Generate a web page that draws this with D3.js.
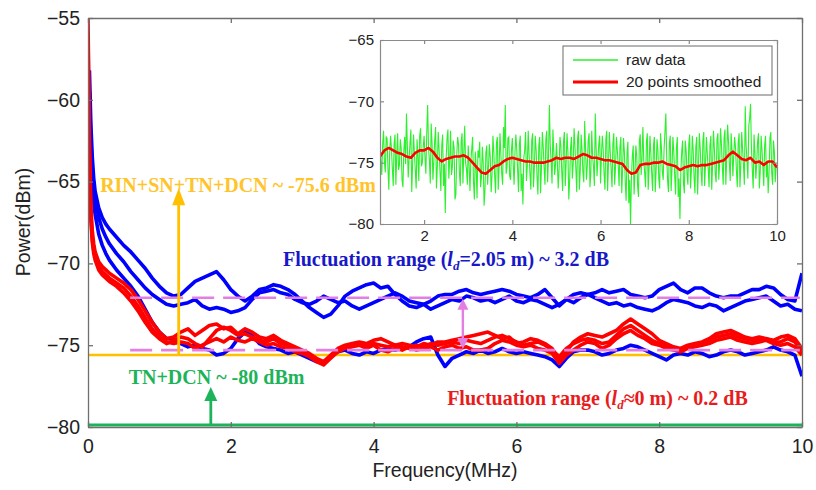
<!DOCTYPE html>
<html>
<head>
<meta charset="utf-8">
<script src="https://cdn.jsdelivr.net/npm/d3@7/dist/d3.min.js"></script>
<style>
  html, body { margin: 0; padding: 0; background: #fff; }
  svg { display: block; }
  .tick text { font-family: "Liberation Sans", Arial, sans-serif; fill: #222; }
</style>
</head>
<body>
<svg id="chart" width="816" height="490"></svg>
<script>
// ---- main spectrum: frequency samples (MHz) ----
const freqLow = [0, 0.02, 0.04, 0.06, 0.08, 0.1, 0.15, 0.2, 0.25, 0.3, 0.4, 0.5, 0.6, 0.7, 0.8, 0.9];
const freqHigh = d3.range(10, 101).map(i => i / 10);   // 1.0 … 10.0 MHz, 0.1 MHz step
const freqMain = freqLow.concat(freqHigh);

// ---- l_d = 2.05 m traces (dBm) ----
const blueA = [null, -58.2, -61.5, -63.5, -64.8, -65.6, -66.6, -67.2, -67.6, -67.9, -68.4, -68.9, -69.3, -69.8, -70.3, -70.9,
  -71.4, -71.8, -72.0, -71.9, -71.5, -71.1, -70.9, -70.7, -70.5, -71.0,
  -71.6, -72.0, -72.3, -72.0, -71.6, -71.5, -71.3, -71.4, -71.6, -71.9,
  -72.3, -72.7, -73.0, -73.3, -73.1, -72.6, -72.0, -71.7, -71.5, -71.3,
  -71.2, -71.5, -71.4, -71.9, -72.3, -72.6, -72.7, -72.5, -72.3, -72.0,
  -71.9, -71.9, -71.7, -71.6, -71.8, -71.9, -71.8, -71.7, -71.6, -71.7,
  -71.9, -72.0, -72.1, -71.9, -71.6, -72.1, -72.6, -72.2, -71.9, -71.8,
  -71.9, -71.8, -71.6, -71.8, -71.7, -71.6, -71.9, -72.0, -72.1, -72.0,
  -71.6, -71.4, -71.2, -71.6, -71.8, -71.5, -71.5, -71.8, -72.0, -72.1,
  -72.0, -72.0, -71.8, -71.6, -71.6, -71.4, -71.5, -71.9, -72.2, -72.3,
  -70.6];
const blueB = [null, -59.5, -62.5, -64.2, -65.3, -66.0, -67.2, -67.9, -68.4, -68.8, -69.4, -69.9, -70.5, -71.0, -71.5, -71.9,
  -72.2, -72.5, -72.6, -72.5, -72.4, -72.2, -72.6, -72.8, -72.7, -72.8,
  -73.0, -72.9, -72.7, -72.2, -71.8, -71.7, -71.6, -71.8, -71.9, -72.2,
  -72.4, -72.5, -72.3, -72.0, -72.2, -72.4, -72.3, -72.6, -72.8, -72.6,
  -72.4, -72.2, -72.0, -71.8, -72.0, -72.3, -72.4, -72.5, -72.8, -72.6,
  -72.4, -72.2, -72.3, -72.0, -72.1, -72.3, -72.2, -72.4, -72.2, -72.0,
  -72.3, -72.4, -72.2, -72.3, -72.5, -72.7, -72.5, -72.2, -72.4, -72.1,
  -71.9, -72.1, -72.3, -72.5, -72.4, -72.6, -72.5, -72.7, -72.8, -72.9,
  -72.7, -72.4, -72.2, -72.3, -72.4, -72.6, -72.7, -72.5, -72.6, -72.9,
  -72.7, -72.5, -72.3, -72.2, -72.1, -72.0, -72.3, -72.6, -72.5, -72.8,
  -72.9];
const blueC = [null, -60.5, -63.5, -65.2, -66.3, -67.0, -68.2, -68.9, -69.4, -69.8, -70.4, -70.9, -71.4, -72.0, -72.8, -73.6,
  -74.2, -74.6, -74.6, -74.9, -75.1, -75.0, -75.2, -75.3, -75.6, -75.5,
  -75.2, -74.6, -74.2, -74.4, -74.9, -75.1, -75.2, -75.3, -75.5, -75.4,
  -75.6, -75.8, -76.0, -76.1, -75.7, -75.4, -75.3, -75.5, -75.6, -75.4,
  -75.5, -75.3, -75.2, -75.3, -75.2, -75.1, -74.8, -74.6, -74.5, -75.6,
  -76.3, -75.8, -75.6, -75.4, -75.5, -75.3, -75.5, -75.4, -75.2, -75.4,
  -75.5, -75.4, -75.5, -75.6, -75.7, -75.9, -76.3, -75.8, -75.4, -75.3,
  -75.3, -75.4, -75.6, -75.5, -75.3, -75.2, -75.0, -75.1, -75.3, -75.5,
  -75.7, -75.9, -75.6, -75.5, -75.6, -75.4, -75.5, -75.7, -75.6, -75.4,
  -75.3, -75.4, -75.6, -75.5, -75.4, -75.3, -75.1, -75.3, -75.4, -75.6,
  -76.9];

// ---- l_d ≈ 0 m traces (dBm) ----
const redA = [-55.0, -62.5, -66.5, -68.0, -68.8, -69.3, -69.9, -70.2, -70.4, -70.6, -70.9, -71.2, -71.6, -72.2, -72.9, -73.6,
  -74.2, -74.6, -74.5, -74.2, -74.0, -74.4, -74.1, -73.8, -73.7, -74.0,
  -73.9, -74.3, -74.0, -74.2, -74.5, -74.6, -74.4, -74.7, -74.9, -75.1,
  -75.3, -75.5, -75.8, -76.0, -75.6, -75.2, -75.0, -74.9, -74.8, -74.9,
  -74.7, -74.6, -74.8, -75.0, -74.9, -75.0, -75.1, -74.9, -75.0, -74.8,
  -74.8, -74.7, -74.6, -74.5, -74.4, -74.3, -74.2, -74.4, -74.6, -74.5,
  -74.9, -74.8, -74.6, -74.7, -74.9, -75.2, -75.9, -75.4, -74.8, -74.5,
  -74.3, -74.4, -74.5, -74.3, -74.1, -73.7, -73.4, -73.7, -74.0, -74.3,
  -74.7, -74.9, -75.1, -75.2, -75.0, -74.9, -74.8, -74.6, -74.3, -74.2,
  -74.1, -74.3, -74.5, -74.6, -74.5, -74.6, -74.7, -74.5, -74.4, -74.6,
  -75.2];
const redB = [-56.0, -63.5, -67.0, -68.5, -69.2, -69.6, -70.2, -70.5, -70.7, -70.9, -71.2, -71.5, -72.0, -72.6, -73.3, -74.0,
  -74.5, -74.8, -74.9, -74.8, -74.9, -75.2, -75.0, -74.8, -74.6, -74.8,
  -74.5, -74.7, -74.8, -74.6, -74.8, -75.0, -74.9, -75.1, -75.2, -75.4,
  -75.5, -75.7, -76.0, -76.2, -75.8, -75.4, -75.2, -75.1, -75.0, -75.2,
  -75.0, -75.3, -75.4, -75.2, -75.3, -75.1, -75.3, -75.2, -75.1, -75.3,
  -75.1, -75.0, -75.2, -75.1, -75.3, -75.3, -75.2, -74.9, -74.7, -74.8,
  -75.0, -75.1, -75.0, -75.2, -75.3, -75.5, -76.1, -75.6, -75.3, -75.0,
  -74.8, -74.9, -75.2, -75.0, -74.6, -74.3, -74.1, -74.4, -74.6, -74.9,
  -75.0, -75.2, -75.3, -75.4, -75.2, -75.1, -75.0, -74.9, -74.7, -74.6,
  -74.5, -74.7, -74.8, -74.9, -74.8, -74.7, -74.9, -75.0, -74.9, -75.1,
  -75.6];
const redC = [-57.0, -64.0, -67.3, -68.7, -69.4, -69.8, -70.4, -70.7, -70.9, -71.1, -71.4, -71.8, -72.3, -72.9, -73.6, -74.2,
  -74.6, -74.9, -74.7, -74.5, -74.6, -74.9, -75.1, -74.6, -74.1, -73.9,
  -74.1, -74.4, -74.3, -74.5, -74.7, -74.8, -74.6, -74.9, -75.0, -75.3,
  -75.4, -75.6, -75.9, -76.1, -75.7, -75.3, -75.1, -75.0, -74.9, -75.0,
  -74.9, -75.0, -75.1, -75.0, -75.1, -75.2, -75.0, -75.1, -74.9, -75.0,
  -74.9, -74.8, -74.9, -74.7, -74.8, -74.9, -74.7, -74.5, -74.4, -74.6,
  -74.8, -75.0, -74.9, -74.8, -75.0, -75.3, -75.7, -75.2, -74.9, -74.7,
  -74.6, -74.7, -74.9, -74.8, -74.4, -74.0, -73.8, -74.1, -74.4, -74.7,
  -74.9, -75.0, -75.2, -75.3, -75.1, -75.0, -74.9, -74.7, -74.5, -74.4,
  -74.3, -74.5, -74.6, -74.7, -74.7, -74.6, -74.8, -74.8, -74.6, -74.8,
  -75.4];

// ---- reference levels (dBm) and annotation anchors ----
const noiseFloorAll = -75.6;     // RIN+SN+TN+DCN
const noiseFloorThermal = -80;   // TN+DCN
const fluctUpper = -72.1;
const fluctLower = -75.3;
const fluctStart = 0.59, fluctEnd = 9.97, fluctArrowF = 5.25;
const yellowArrowF = 1.27, yellowArrowTip = -65.4;
const greenArrowF = 1.72, greenArrowTip = -77.55;

// ---- inset: one l_d ≈ 0 m trace, 20 kHz raw bins from 1 MHz ----
const insetRaw = [
  // 1 – 2 MHz
  -73.2, -74.8, -76.0, -73.5, -72.4, -74.9, -75.8, -72.9, -73.0, -75.4,
  -77.2, -74.1, -72.8, -73.9, -75.5, -76.9, -73.5, -72.7, -76.8, -74.3,
  -72.6, -75.6, -75.2, -73.1, -73.8, -76.4, -77.0, -74.0, -72.9, -75.1,
  -71.0, -73.6, -76.2, -74.7, -73.4, -72.3, -77.4, -75.0, -72.7, -74.2,
  -75.6, -77.1, -73.1, -74.5, -76.5, -72.8, -72.2, -75.3, -75.0, -73.7,
  // 2 – 3 MHz
  -72.8, -74.6, -75.9, -72.5, -70.3, -73.8, -74.8, -76.7, -71.8, -73.4,
  -76.4, -74.9, -73.2, -72.1, -77.1, -75.3, -72.5, -74.0, -75.7, -77.3,
  -73.6, -72.7, -76.9, -75.1, -79.1, -74.6, -73.0, -72.3, -76.3, -74.8,
  -72.4, -76.0, -75.4, -73.2, -73.8, -78.0, -77.6, -74.4, -72.9, -73.5,
  -75.8, -76.9, -73.3, -72.6, -76.7, -74.2, -72.0, -75.0, -75.5, -76.8,
  // 3 – 4 MHz
  -73.6, -75.2, -77.3, -74.8, -73.9, -72.9, -76.6, -78.0, -74.1, -75.5,
  -77.9, -74.0, -74.6, -73.3, -77.0, -76.2, -73.7, -75.0, -78.5, -77.2,
  -74.2, -73.6, -76.8, -75.3, -73.5, -74.6, -77.4, -76.0, -72.8, -74.1,
  -76.1, -77.5, -73.4, -72.9, -77.2, -75.4, -72.6, -74.3, -75.9, -76.8,
  -72.1, -73.8, -70.3, -75.9, -75.3, -73.0, -72.9, -76.1, -76.4, -74.0,
  // 4 – 5 MHz
  -73.0, -75.1, -76.8, -74.2, -72.7, -73.9, -75.6, -77.4, -73.5, -72.8,
  -77.3, -75.9, -78.4, -74.6, -74.0, -72.5, -76.5, -75.2, -72.4, -74.4,
  -75.9, -77.2, -73.2, -72.6, -77.0, -75.3, -72.8, -74.0, -76.2, -77.6,
  -73.6, -72.9, -77.5, -75.4, -72.5, -73.7, -75.4, -76.8, -73.1, -72.4,
  -76.6, -74.5, -70.3, -73.6, -74.9, -76.7, -72.3, -74.1, -76.0, -75.1,
  // 5 – 6 MHz
  -73.4, -74.9, -77.1, -75.5, -72.9, -73.6, -75.7, -77.3, -73.3, -72.5,
  -76.9, -75.0, -72.6, -74.1, -78.0, -76.4, -73.8, -72.9, -76.3, -75.1,
  -72.2, -73.7, -75.5, -77.4, -73.0, -72.4, -77.2, -75.6, -72.7, -74.0,
  -75.8, -76.6, -71.6, -73.9, -76.4, -75.2, -73.2, -72.6, -77.0, -75.8,
  -72.4, -74.5, -75.3, -76.9, -71.0, -73.8, -76.1, -74.7, -73.5, -72.8,
  // 6 – 7 MHz
  -76.7, -74.4, -72.8, -73.9, -75.9, -77.2, -73.1, -72.4, -77.3, -75.0,
  -72.5, -74.2, -75.6, -77.0, -73.4, -72.6, -76.8, -75.3, -72.9, -74.0,
  -75.2, -76.9, -73.7, -72.9, -77.5, -75.6, -73.0, -74.1, -76.6, -78.1,
  -74.2, -73.3, -78.3, -76.4, -80.0, -76.2, -74.5, -73.6, -77.6, -75.9,
  -73.6, -74.4, -76.9, -77.8, -73.2, -72.7, -76.0, -74.6, -72.1, -74.9,
  // 7 – 8 MHz
  -75.8, -77.0, -73.3, -72.6, -77.2, -75.4, -72.8, -74.2, -75.9, -77.3,
  -73.6, -72.9, -77.4, -75.6, -73.1, -74.0, -76.3, -77.1, -72.6, -73.8,
  -75.7, -76.4, -73.9, -72.5, -71.0, -74.6, -76.5, -77.4, -73.4, -72.8,
  -77.3, -75.5, -72.9, -74.1, -76.0, -77.6, -73.8, -72.9, -77.8, -76.3,
  -79.6, -75.7, -74.1, -73.2, -76.7, -77.5, -73.2, -74.0, -75.9, -76.8,
  // 8 – 9 MHz
  -73.5, -72.7, -77.1, -75.6, -72.8, -74.0, -76.2, -77.5, -73.7, -72.9,
  -77.6, -75.3, -72.6, -73.9, -75.8, -76.9, -73.2, -72.5, -76.9, -75.0,
  -72.9, -74.3, -75.5, -77.0, -73.6, -72.8, -77.2, -75.2, -72.4, -73.8,
  -75.9, -76.6, -73.1, -72.6, -76.4, -75.0, -72.2, -73.5, -75.3, -76.8,
  -73.0, -72.3, -76.8, -74.6, -71.9, -73.2, -75.0, -76.5, -72.6, -74.0,
  // 9 – 10 MHz
  -76.1, -74.3, -72.9, -73.8, -75.7, -77.0, -73.4, -72.6, -77.0, -75.2,
  -72.5, -73.9, -75.2, -76.8, -70.4, -73.6, -74.8, -76.3, -72.0, -71.4,
  -70.2, -73.7, -75.6, -77.1, -72.7, -74.2, -76.3, -75.0, -73.3, -72.6,
  -77.1, -75.7, -72.8, -74.0, -75.4, -76.9, -73.6, -72.8, -76.2, -74.9,
  -77.5, -75.8, -73.0, -72.5, -75.8, -76.8, -73.2, -74.1, -76.6, -75.3,
  -75.2];
const insetRawFreq = insetRaw.map((_, i) => 1 + i * 0.02);

// 20-point moving average of the same trace, 0.1 MHz samples from 1 MHz
const insetSmooth = [
  -74.5, -74.0, -73.8, -74.0, -74.2, -74.3, -74.5, -74.6, -74.2, -74.0,
  -74.0, -73.8, -74.1, -74.6, -74.9, -74.7, -74.6, -74.5, -74.5, -74.4,
  -74.6, -75.0, -75.4, -75.8, -75.9, -75.6, -75.3, -75.2, -74.9, -74.7,
  -74.6, -74.7, -74.8, -74.9, -74.9, -75.0, -75.0, -75.0, -74.9, -74.8,
  -74.6, -74.7, -74.6, -74.6, -74.7, -74.5, -74.3, -74.4, -74.6, -74.6,
  -74.7, -74.8, -74.8, -74.9, -75.0, -75.1, -75.6, -75.9, -75.8, -75.2,
  -75.1, -75.1, -75.0, -75.0, -74.9, -75.1, -75.2, -75.3, -75.6, -75.4,
  -75.3, -75.2, -75.3, -75.2, -75.2, -75.1, -75.0, -74.9, -74.8, -74.4,
  -74.1, -74.4, -74.7, -74.8, -74.6, -75.0, -74.9, -75.2, -74.9, -74.9,
  -75.4];
const insetSmoothFreq = insetSmooth.map((_, i) => 1 + i * 0.1);

// ---- axis ticks ----
const mainXTicks = [0, 2, 4, 6, 8, 10];
const mainYTicks = [-80, -75, -70, -65, -60, -55];
const insetXTicks = [2, 4, 6, 8, 10];
const insetYTicks = [-80, -75, -70, -65];
const legendLabels = ["raw data", "20 points smoothed"];

// ---- colours ----
const C = {
  blue: "#0000ff", red: "#ff0000", yellow: "#ffc000", yellowText: "#ffc42a",
  green: "#1db35a", pink: "#e37fe3", axis: "#6f6f6f", rawGreen: "#2cf02c",
  blueText: "#1818c8", redText: "#e81c1c"
};

const svg = d3.select("#chart");

// ===== main axes =====
const x = d3.scaleLinear().domain([0, 10]).range([88, 802]);
const y = d3.scaleLinear().domain([-80, -55]).range([427, 18]);

const plot = svg.append("g");
plot.append("clipPath").attr("id", "mainClip")
  .append("rect").attr("x", 88).attr("y", 18).attr("width", 714).attr("height", 409);

const series = [
  { v: blueA, c: C.blue }, { v: blueB, c: C.blue }, { v: blueC, c: C.blue },
  { v: redB, c: C.red }, { v: redC, c: C.red }, { v: redA, c: C.red }
];

// yellow RIN+SN+TN+DCN floor (below the traces)
plot.append("line")
  .attr("x1", x(0)).attr("x2", x(10))
  .attr("y1", y(noiseFloorAll)).attr("y2", y(noiseFloorAll))
  .attr("stroke", C.yellow).attr("stroke-width", 2.6);

const line = d3.line()
  .defined(d => d[1] !== null)
  .x(d => x(d[0])).y(d => y(d[1]));

plot.append("g").attr("clip-path", "url(#mainClip)")
  .selectAll("path").data(series).join("path")
  .attr("d", s => line(freqMain.map((f, i) => [f, s.v[i]])))
  .attr("fill", "none").attr("stroke", s => s.c)
  .attr("stroke-width", 3.6).attr("stroke-linejoin", "round");

// fluctuation band limits (dashed)
[fluctUpper, fluctLower].forEach(v => {
  plot.append("line")
    .attr("x1", x(fluctStart)).attr("x2", x(fluctEnd))
    .attr("y1", y(v)).attr("y2", y(v))
    .attr("stroke", C.pink).attr("stroke-width", 2.6)
    .attr("stroke-dasharray", "22,9");
});

// arrow helper: shaft from (x0,y0) to tip (x1,y1) with filled head
function arrow(g, x0, y0, x1, y1, color, w, headLen, headW) {
  const dy = Math.sign(y1 - y0);
  g.append("line").attr("x1", x0).attr("y1", y0).attr("x2", x1).attr("y2", y1 - dy * headLen * 0.8)
    .attr("stroke", color).attr("stroke-width", w);
  g.append("path")
    .attr("d", `M${x1},${y1} L${x1 - headW / 2},${y1 - dy * headLen} L${x1 + headW / 2},${y1 - dy * headLen} Z`)
    .attr("fill", color);
}

// pink double arrow across the band
{
  const ax = x(fluctArrowF), yTop = y(fluctUpper), yBot = y(fluctLower);
  const mid = (yTop + yBot) / 2;
  arrow(plot, ax, mid, ax, yTop + 1, C.pink, 2.4, 11, 11);
  arrow(plot, ax, mid, ax, yBot - 1, C.pink, 2.4, 11, 11);
}

// yellow arrow
arrow(plot, x(yellowArrowF), y(noiseFloorAll), x(yellowArrowF), y(yellowArrowTip), C.yellow, 2.8, 17, 13);

// green TN+DCN floor and arrow
plot.append("line")
  .attr("x1", x(0)).attr("x2", x(10))
  .attr("y1", y(noiseFloorThermal) - 2).attr("y2", y(noiseFloorThermal) - 2)
  .attr("stroke", C.green).attr("stroke-width", 3);
arrow(plot, x(greenArrowF), y(noiseFloorThermal) - 2, x(greenArrowF), y(greenArrowTip), C.green, 2.8, 14, 13);

// frame + axes
const axG = svg.append("g");
const tickFont = "19.5px";
axG.append("g").attr("transform", "translate(0,427)")
  .call(d3.axisBottom(x).tickValues(mainXTicks).tickSizeInner(-5).tickSizeOuter(0).tickPadding(12).tickFormat(d3.format("d")))
  .call(g => g.selectAll("text").style("font-size", tickFont));
axG.append("g").attr("transform", "translate(88,0)")
  .call(d3.axisLeft(y).tickValues(mainYTicks).tickSizeInner(-5).tickSizeOuter(0).tickPadding(8).tickFormat(d3.format("d")))
  .call(g => g.selectAll("text").style("font-size", tickFont));
axG.append("g").attr("transform", "translate(0,18)")
  .call(d3.axisTop(x).tickValues(mainXTicks).tickSizeInner(-5).tickSizeOuter(0).tickFormat(""));
axG.append("g").attr("transform", "translate(802,0)")
  .call(d3.axisRight(y).tickValues(mainYTicks).tickSizeInner(-5).tickSizeOuter(0).tickFormat(""));
axG.selectAll(".domain, .tick line").attr("stroke", C.axis).attr("stroke-width", 1.3);

svg.append("text").attr("x", 445).attr("y", 477).attr("text-anchor", "middle")
  .style("font-family", "'Liberation Sans', Arial, sans-serif").style("font-size", "19.5px").attr("fill", "#222")
  .text("Frequency(MHz)");
svg.append("text").attr("transform", "translate(30,222) rotate(-90)").attr("text-anchor", "middle")
  .style("font-family", "'Liberation Sans', Arial, sans-serif").style("font-size", "19.5px").attr("fill", "#222")
  .text("Power(dBm)");

// annotation texts
const serif = "'Liberation Serif', 'Times New Roman', serif";
function note(xp, yp, color, parts) {
  const t = svg.append("text").attr("x", xp).attr("y", yp)
    .style("font-family", serif).style("font-size", "20px").style("font-weight", "bold").attr("fill", color);
  parts.forEach(p => {
    const s = t.append("tspan").text(p.t);
    if (p.i) s.style("font-style", "italic");
    if (p.sub) s.style("font-size", "13px").attr("dy", 4);
    if (p.up) s.attr("dy", -4);
  });
  return t;
}
note(x(0.17), 192, C.yellowText, [{ t: "RIN+SN+TN+DCN ~ -75.6 dBm" }]);
note(x(0.57), 384, C.green, [{ t: "TN+DCN ~ -80 dBm" }]);
note(x(2.73), 266, C.blueText, [{ t: "Fluctuation range (" }, { t: "l", i: true }, { t: "d", i: true, sub: true }, { t: "=2.05 m) ~ 3.2 dB", up: true }]);
note(x(5.03), 405, C.redText, [{ t: "Fluctuation range (" }, { t: "l", i: true }, { t: "d", i: true, sub: true }, { t: "≈0 m) ~ 0.2 dB", up: true }]);

// ===== inset =====
const xi = d3.scaleLinear().domain([1, 10]).range([380, 777]);
const yi = d3.scaleLinear().domain([-80, -65]).range([224, 40]);
const inset = svg.append("g");
inset.append("rect").attr("x", 380).attr("y", 40).attr("width", 397).attr("height", 184).attr("fill", "#fff");
inset.append("clipPath").attr("id", "insetClip")
  .append("rect").attr("x", 380).attr("y", 40).attr("width", 397).attr("height", 184);

const lineI = d3.line().x(d => xi(d[0])).y(d => yi(d[1]));
const insetLines = inset.append("g").attr("clip-path", "url(#insetClip)");
insetLines.append("path")
  .attr("d", lineI(insetRawFreq.map((f, i) => [f, insetRaw[i]])))
  .attr("fill", "none").attr("stroke", C.rawGreen).attr("stroke-width", 1.1);
insetLines.append("path")
  .attr("d", lineI(insetSmoothFreq.map((f, i) => [f, insetSmooth[i]])))
  .attr("fill", "none").attr("stroke", C.red).attr("stroke-width", 2.6).attr("stroke-linejoin", "round");

const insetFont = "15px";
const iax = inset.append("g");
iax.append("g").attr("transform", "translate(0,224)")
  .call(d3.axisBottom(xi).tickValues(insetXTicks).tickSizeInner(-4).tickSizeOuter(0).tickPadding(6).tickFormat(d3.format("d")))
  .call(g => g.selectAll("text").style("font-size", insetFont));
iax.append("g").attr("transform", "translate(380,0)")
  .call(d3.axisLeft(yi).tickValues(insetYTicks).tickSizeInner(-4).tickSizeOuter(0).tickPadding(6).tickFormat(d3.format("d")))
  .call(g => g.selectAll("text").style("font-size", insetFont));
iax.append("g").attr("transform", "translate(0,40)")
  .call(d3.axisTop(xi).tickValues(insetXTicks).tickSizeInner(-4).tickSizeOuter(0).tickFormat(""));
iax.append("g").attr("transform", "translate(777,0)")
  .call(d3.axisRight(yi).tickValues(insetYTicks).tickSizeInner(-4).tickSizeOuter(0).tickFormat(""));
iax.selectAll(".domain, .tick line").attr("stroke", "#8a8a8a").attr("stroke-width", 1.2);

// legend
const lg = inset.append("g");
lg.append("rect").attr("x", 563).attr("y", 46).attr("width", 209).attr("height", 49)
  .attr("fill", "#fff").attr("stroke", "#6a6a6a").attr("stroke-width", 1);
const legendColors = [C.rawGreen, C.red];
const legendWidths = [1.6, 2.8];
legendLabels.forEach((lab, i) => {
  const yy = 60 + i * 22;
  lg.append("line").attr("x1", 573).attr("x2", 618).attr("y1", yy).attr("y2", yy)
    .attr("stroke", legendColors[i]).attr("stroke-width", legendWidths[i]);
  lg.append("text").attr("x", 626).attr("y", yy).attr("dy", "0.35em")
    .style("font-family", "'Liberation Sans', Arial, sans-serif").style("font-size", "15.5px").attr("fill", "#222")
    .text(lab);
});
</script>
</body>
</html>
